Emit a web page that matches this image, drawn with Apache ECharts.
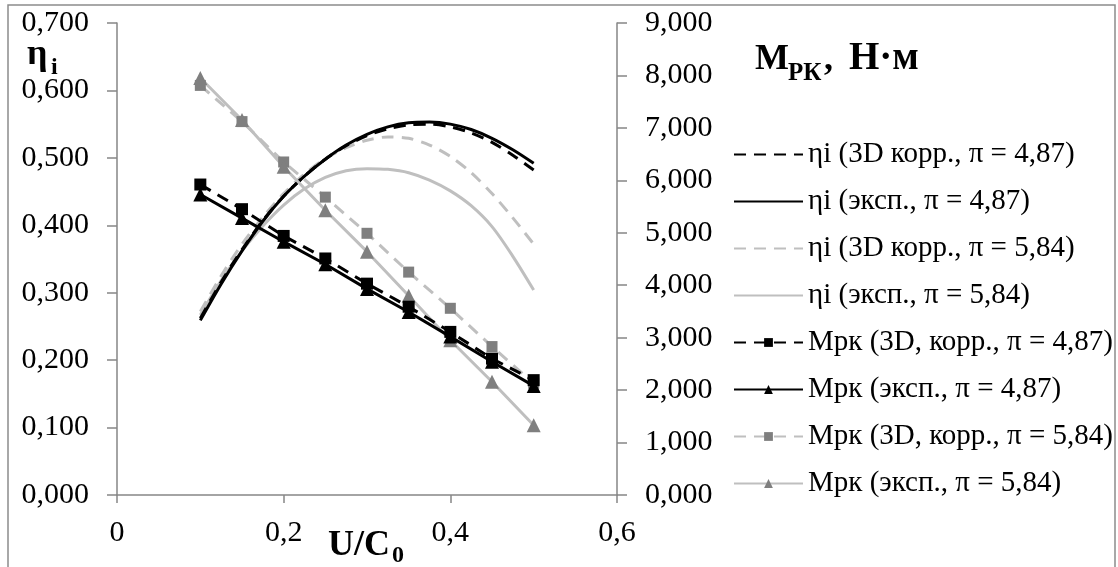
<!DOCTYPE html>
<html>
<head>
<meta charset="utf-8">
<script src="https://cdn.jsdelivr.net/npm/echarts@6/dist/echarts.min.js"></script>
<style>
  html, body { margin: 0; padding: 0; background: #fff; }
  #chart { width: 1118px; height: 567px; }
</style>
</head>
<body>
<div id="chart"></div>
<script>
// U/C0 points of the torque series
const uc = [0.1, 0.15, 0.2, 0.25, 0.3, 0.35, 0.4, 0.45, 0.5]
// U/C0 points
const ucFine = [0.1, 0.125, 0.15, 0.175, 0.2, 0.225, 0.25, 0.275, 0.3, 0.325, 0.35, 0.375, 0.4, 0.425, 0.45, 0.475, 0.5]

// ηi curves (left axis)
const etaKorr487 = [0.262, 0.316, 0.364, 0.407, 0.443, 0.473, 0.498, 0.518, 0.533, 0.543, 0.549, 0.55, 0.546, 0.537, 0.523, 0.504, 0.482]
const etaExp487 = [0.259, 0.313, 0.362, 0.406, 0.443, 0.473, 0.498, 0.519, 0.535, 0.546, 0.552, 0.553, 0.55, 0.542, 0.529, 0.512, 0.492]
const etaKorr584 = [0.272, 0.325, 0.372, 0.412, 0.447, 0.476, 0.499, 0.515, 0.526, 0.531, 0.529, 0.519, 0.502, 0.478, 0.447, 0.411, 0.372]
const etaExp584 = [0.267, 0.318, 0.362, 0.399, 0.43, 0.454, 0.471, 0.481, 0.484, 0.483, 0.478, 0.467, 0.451, 0.429, 0.398, 0.354, 0.304]

// Mрк, Н·м (right axis)
const mKorr487 = [5.92, 5.45, 4.94, 4.51, 4.03, 3.59, 3.11, 2.6, 2.19]
const mExp487 = [5.73, 5.28, 4.83, 4.4, 3.93, 3.49, 3.02, 2.54, 2.08]
const mKorr584 = [7.81, 7.12, 6.35, 5.68, 4.99, 4.25, 3.56, 2.83, 2.13]
const mExp584 = [7.95, 7.15, 6.26, 5.43, 4.64, 3.8, 2.95, 2.16, 1.33]

const FONT = 'Liberation Serif'
const AXIS_GRAY = '#868686'
const LIGHT = '#bfbfbf'
const MARK_GRAY = '#7f7f7f'

function pts (xs, ys) {
  return xs.map((x, i) => [x, ys[i]])
}
function comma (v, d) {
  return v.toFixed(d).replace('.', ',')
}

function etaSeries (name, ys, color, dashed) {
  return {
    name: name,
    type: 'line',
    yAxisIndex: 0,
    smooth: 0.3,
    symbol: 'none',
    lineStyle: { color: color, width: 3, type: dashed ? [12, 8] : 'solid' },
    itemStyle: { color: color },
    data: pts(ucFine, ys)
  }
}
function mSeries (name, ys, color, markColor, dashed, symbol, size) {
  return {
    name: name,
    type: 'line',
    yAxisIndex: 1,
    symbol: symbol,
    symbolSize: size,
    lineStyle: { color: color, width: 3, type: dashed ? [12, 8] : 'solid' },
    itemStyle: { color: markColor },
    data: pts(uc, ys)
  }
}

const tickLabel = {
  color: '#000',
  fontFamily: FONT,
  fontSize: 30
}

const chart = echarts.init(document.getElementById('chart'))

const option = {
  backgroundColor: '#fff',
  animation: false,
  textStyle: { fontFamily: FONT },
  grid: { left: 117, right: 501, top: 23, bottom: 72 },
  xAxis: {
    type: 'value',
    min: 0,
    max: 0.6,
    interval: 0.2,
    axisLine: { lineStyle: { color: AXIS_GRAY, width: 1.5 } },
    axisTick: { show: true, length: 8, lineStyle: { color: AXIS_GRAY, width: 1.5 } },
    splitLine: { show: false },
    axisLabel: Object.assign({ margin: 23, formatter: v => v === 0 ? '0' : comma(v, 1) }, tickLabel)
  },
  yAxis: [
    {
      type: 'value',
      min: 0,
      max: 0.7,
      interval: 0.1,
      axisLine: { show: true, lineStyle: { color: AXIS_GRAY, width: 1.5 } },
      axisTick: { show: true, length: 10, lineStyle: { color: AXIS_GRAY, width: 1.5 } },
      splitLine: { show: false },
      axisLabel: Object.assign({ margin: 28, formatter: v => comma(v, 3) }, tickLabel)
    },
    {
      type: 'value',
      position: 'right',
      min: 0,
      max: 9,
      interval: 1,
      axisLine: { show: true, lineStyle: { color: AXIS_GRAY, width: 1.5 } },
      axisTick: { show: true, length: 10, lineStyle: { color: AXIS_GRAY, width: 1.5 } },
      splitLine: { show: false },
      axisLabel: Object.assign({ margin: 28, formatter: v => comma(v, 3) }, tickLabel)
    }
  ],
  legend: {
    orient: 'vertical',
    left: 733,
    top: 140,
    padding: 0,
    itemWidth: 69,
    itemHeight: 11,
    itemGap: 18,
    textStyle: { color: '#000', fontFamily: FONT, fontSize: 29, lineHeight: 29 },
    data: [
      { name: 'ηi (3D корр., π = 4,87)', itemStyle: { opacity: 0 } },
      { name: 'ηi (эксп., π = 4,87)', itemStyle: { opacity: 0 } },
      { name: 'ηi (3D корр., π = 5,84)', itemStyle: { opacity: 0 } },
      { name: 'ηi (эксп., π = 5,84)', itemStyle: { opacity: 0 } },
      'Мрк (3D, корр., π = 4,87)',
      'Мрк (эксп., π = 4,87)',
      'Мрк (3D, корр., π = 5,84)',
      'Мрк (эксп., π = 5,84)'
    ]
  },
  series: [
    etaSeries('ηi (эксп., π = 5,84)', etaExp584, LIGHT, false),
    etaSeries('ηi (3D корр., π = 5,84)', etaKorr584, LIGHT, true),
    etaSeries('ηi (эксп., π = 4,87)', etaExp487, '#000', false),
    etaSeries('ηi (3D корр., π = 4,87)', etaKorr487, '#000', true),
    mSeries('Мрк (3D, корр., π = 5,84)', mKorr584, LIGHT, MARK_GRAY, true, 'rect', 11),
    mSeries('Мрк (эксп., π = 5,84)', mExp584, LIGHT, MARK_GRAY, false, 'triangle', 14),
    mSeries('Мрк (3D, корр., π = 4,87)', mKorr487, '#000', '#000', true, 'rect', 12),
    mSeries('Мрк (эксп., π = 4,87)', mExp487, '#000', '#000', false, 'triangle', 14)
  ],
  graphic: [
    {
      type: 'rect',
      silent: true,
      shape: { x: 8, y: 5, width: 1107, height: 620 },
      style: { fill: 'none', stroke: '#8c8c8c', lineWidth: 1.5 }
    },
    { type: 'text', style: { x: 27, y: 55, text: 'η', font: 'bold 36px "Liberation Serif"', fill: '#000', textVerticalAlign: 'middle' } },
    { type: 'text', style: { x: 51, y: 68, text: 'i', font: 'bold 24px "Liberation Serif"', fill: '#000', textVerticalAlign: 'middle' } },
    { type: 'text', style: { x: 755, y: 60, text: 'М', font: 'bold 36px "Liberation Serif"', fill: '#000', textVerticalAlign: 'middle' } },
    { type: 'text', style: { x: 788, y: 74, text: 'РК', font: 'bold 25px "Liberation Serif"', fill: '#000', textVerticalAlign: 'middle' } },
    { type: 'text', style: { x: 824, y: 60, text: ',', font: 'bold 36px "Liberation Serif"', fill: '#000', textVerticalAlign: 'middle' } },
    { type: 'text', style: { x: 849, y: 59, text: 'Н·м', font: 'bold 39px "Liberation Serif"', fill: '#000', textVerticalAlign: 'middle' } },
    { type: 'text', style: { x: 328, y: 546, text: 'U/C', font: 'bold 36px "Liberation Serif"', fill: '#000', textVerticalAlign: 'middle' } },
    { type: 'text', style: { x: 392, y: 556, text: '0', font: 'bold 24px "Liberation Serif"', fill: '#000', textVerticalAlign: 'middle' } }
  ]
}

chart.setOption(option)
</script>
</body>
</html>
